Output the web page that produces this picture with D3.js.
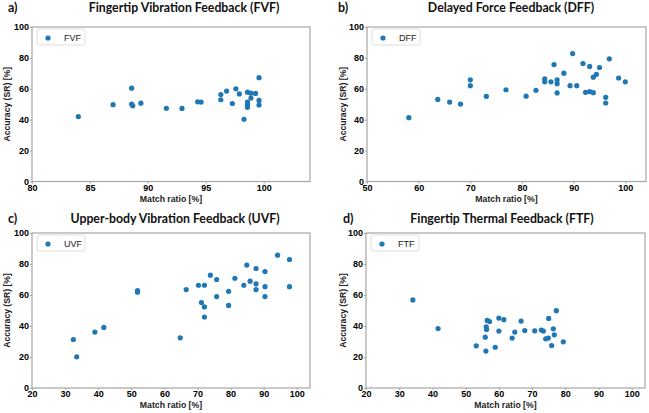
<!DOCTYPE html>
<html><head><meta charset="utf-8">
<script src="https://cdn.jsdelivr.net/npm/d3@7"></script>
<style>body{margin:0;background:#fff}svg{display:block}</style>
</head><body>
<script>
// ---- DATA ----
const fvfX = [84.0,87.0,88.6,88.6,88.7,89.4,91.6,92.95,94.3,94.6,96.3,96.3,96.8,97.3,97.6,97.9,98.3,98.6,98.6,98.6,98.6,98.9,98.9,99.3,99.6,99.6,99.6];
const fvfY = [42.0,49.7,60.4,50.1,49.0,50.7,47.4,47.3,51.6,51.4,56.3,52.9,58.5,50.5,60.0,56.7,40.3,57.8,51.4,49.9,48.0,57.2,54.0,57.0,67.2,52.5,49.5];

const dffX = [58.1,63.7,66.0,68.1,70.0,70.0,73.1,76.9,80.8,82.7,84.4,84.4,85.6,86.2,86.8,86.8,86.8,88.1,89.3,89.8,90.6,91.8,92.3,93.1,93.1,93.8,93.8,94.4,95.0,96.2,96.2,96.9,98.7,100.0];
const dffY = [41.3,53.1,51.4,50.1,65.8,62.0,55.1,59.4,55.2,59.0,66.5,64.5,64.5,75.7,65.8,63.3,57.3,70.1,62.0,82.8,62.0,76.3,57.7,74.5,58.2,57.5,67.5,69.4,73.8,54.5,50.8,79.4,67.0,64.5];

const uvfX = [32.5,33.5,39.0,41.7,51.9,51.9,64.8,66.6,70.3,71.2,72.1,72.1,72.1,73.9,75.8,75.8,79.4,79.4,81.3,84.0,84.9,85.9,87.7,87.7,87.7,90.4,90.4,90.4,94.2,97.8,97.8];
const uvfY = [31.3,20.1,36.1,39.1,62.9,61.8,32.4,63.5,66.3,55.1,66.3,52.3,45.8,72.8,70.0,59.0,62.4,53.3,70.8,66.3,79.3,68.9,77.1,67.2,63.5,75.1,65.4,59.0,85.7,82.9,65.4];

const ftfX = [34.1,41.7,53.2,55.9,56.1,56.2,56.3,56.5,57.2,58.9,60.0,60.0,61.5,64.0,64.8,66.7,67.8,70.8,72.8,73.4,74.1,74.9,75.0,75.9,76.4,76.7,77.3,79.4];
const ftfY = [56.8,38.4,27.2,32.8,23.8,39.5,37.8,43.6,42.9,26.3,45.1,36.7,44.1,32.2,36.1,43.2,37.1,36.9,37.4,36.7,31.7,32.2,44.9,27.4,38.2,34.3,49.9,29.8];

const yTicks = [0,20,40,60,80,100];
const xTicksA = [80,85,90,95,100];
const xTicksB = [50,60,70,80,90,100];
const xTicksCD = [20,30,40,50,60,70,80,90,100];

const panels = [
  {tag:"a)", title:"Fingertip Vibration Feedback (FVF)", name:"FVF", xs:fvfX, ys:fvfY, xdom:[80,104], xt:xTicksA,
   box:[32,310,27,181.5], titleX:184, titleY:8, tagX:8, ylabX:7},
  {tag:"b)", title:"Delayed Force Feedback (DFF)", name:"DFF", xs:dffX, ys:dffY, xdom:[50,104], xt:xTicksB,
   box:[367,646,27,181.5], titleX:511, titleY:8, tagX:338, ylabX:343},
  {tag:"c)", title:"Upper-body Vibration Feedback (UVF)", name:"UVF", xs:uvfX, ys:uvfY, xdom:[20,104], xt:xTicksCD,
   box:[32,310,233,388], titleX:175, titleY:219, tagX:8, ylabX:7},
  {tag:"d)", title:"Fingertip Thermal Feedback (FTF)", name:"FTF", xs:ftfX, ys:ftfY, xdom:[20,104], xt:xTicksCD,
   box:[366,645,233,388], titleX:502, titleY:219, tagX:343, ylabX:343}
];

const W = 649, H = 413;
const svg = d3.select("body").append("svg").attr("width", W).attr("height", H);
svg.append("rect").attr("width", W).attr("height", H).attr("fill", "#fff");

const spineColor = "#a6a6a6";
const blue = "#1f77b4";

panels.forEach(p => {
  const [l, r, t, b] = p.box;
  const x = d3.scaleLinear().domain(p.xdom).range([l, r]);
  const y = d3.scaleLinear().domain([0, 100]).range([b, t]);
  const g = svg.append("g");

  const xa = g.append("g").attr("transform", `translate(0,${b})`)
    .call(d3.axisBottom(x).tickValues(p.xt).tickSize(2).tickPadding(1).tickFormat(d3.format("d")));
  const ya = g.append("g").attr("transform", `translate(${l},0)`)
    .call(d3.axisLeft(y).tickValues(yTicks).tickSize(2).tickPadding(1).tickFormat(d3.format("d")));
  [xa, ya].forEach(a => {
    a.select(".domain").remove();
    a.selectAll(".tick line").attr("stroke", spineColor);
    a.selectAll(".tick text").attr("fill", "#000")
      .style("font-family", "'Liberation Sans', Arial, sans-serif")
      .style("font-weight", "bold").style("font-size", "9px");
  });

  g.append("rect").attr("x", l).attr("y", t).attr("width", r - l).attr("height", b - t)
    .attr("fill", "none").attr("stroke", spineColor).attr("stroke-width", 1.2);

  g.append("g").selectAll("circle").data(p.xs.map((v, i) => [v, p.ys[i]])).join("circle")
    .attr("cx", d => x(d[0])).attr("cy", d => y(d[1])).attr("r", 2.6).attr("fill", blue);

  const lg = g.append("g").attr("transform", `translate(${l + 5},${t + 2})`);
  lg.append("rect").attr("width", 48).attr("height", 16).attr("rx", 2)
    .attr("fill", "#fff").attr("stroke", "#d6d6d6").attr("stroke-width", 0.8);
  lg.append("circle").attr("cx", 11).attr("cy", 9).attr("r", 2.6).attr("fill", blue);
  lg.append("text").attr("x", 27).attr("y", 12).text(p.name)
    .style("font-family", "'Liberation Sans', Arial, sans-serif").style("font-size", "9px").attr("fill", "#222");

  g.append("text").attr("x", (l + r) / 2).attr("y", b + 20).attr("text-anchor", "middle")
    .text("Match ratio [%]")
    .style("font-family", "'Liberation Sans', Arial, sans-serif").style("font-weight", "bold").style("font-size", "8.7px")
    .attr("fill", "#222");
  g.append("text").attr("transform", `translate(${p.ylabX + 3},${(t + b) / 2}) rotate(-90)`)
    .attr("text-anchor", "middle").text("Accuracy (SR) [%]")
    .style("font-family", "'Liberation Sans', Arial, sans-serif").style("font-weight", "bold").style("font-size", "8.6px")
    .attr("fill", "#222");

  g.append("text").attr("x", p.titleX).attr("y", p.titleY).attr("dy", "0.35em").attr("text-anchor", "middle")
    .text(p.title)
    .style("font-family", "Lato, 'Open Sans', sans-serif").style("font-weight", "bold").style("font-size", "12.3px")
    .attr("fill", "#111");
  g.append("text").attr("x", p.tagX).attr("y", p.titleY).attr("dy", "0.35em")
    .text(p.tag)
    .style("font-family", "Lato, 'Open Sans', sans-serif").style("font-weight", "bold").style("font-size", "12.5px")
    .attr("fill", "#111");
});
</script>
</body></html>
